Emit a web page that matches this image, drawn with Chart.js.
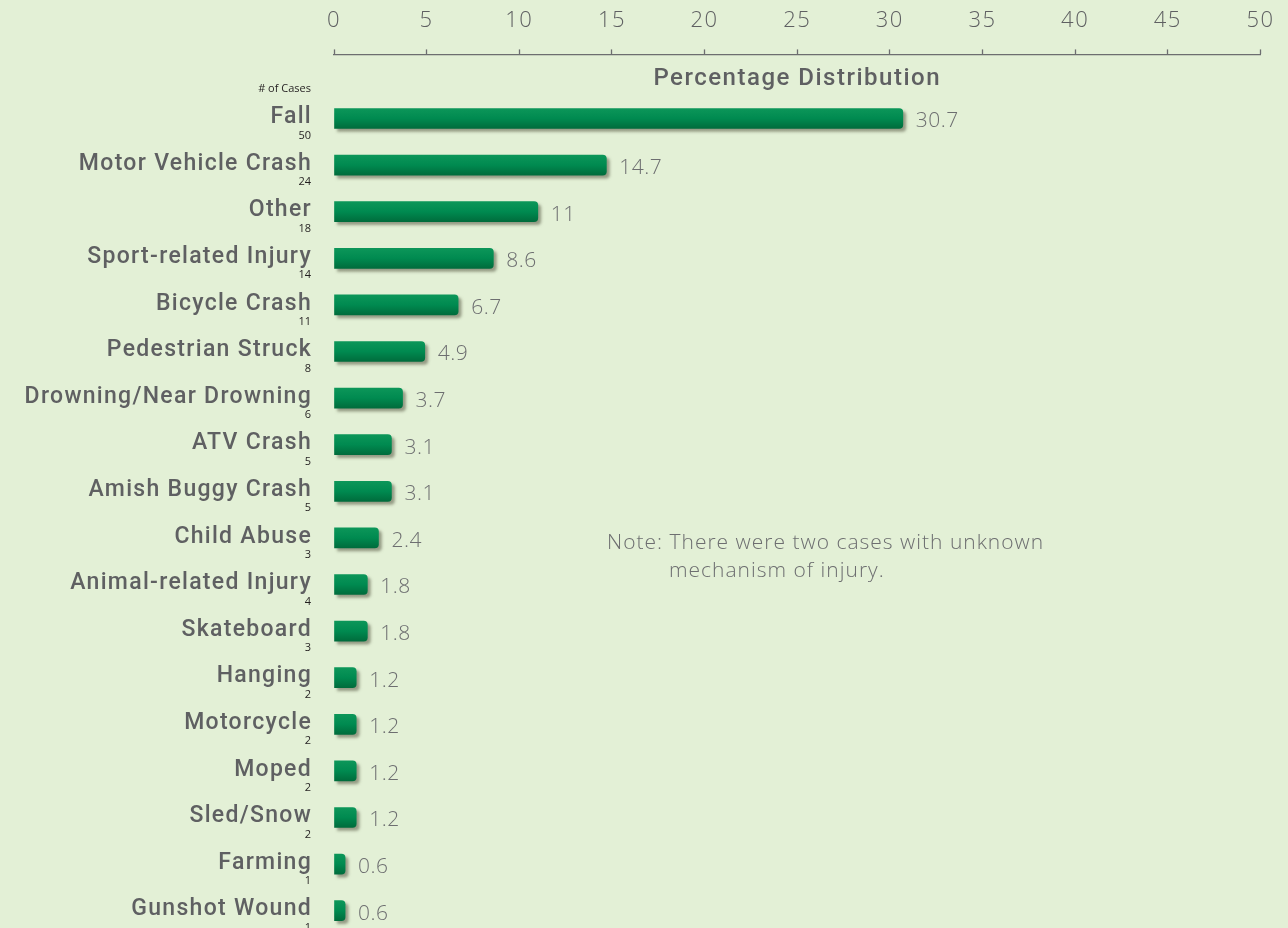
<!DOCTYPE html>
<html>
<head>
<meta charset="utf-8">
<script src="https://cdn.jsdelivr.net/npm/chart.js@4/dist/chart.umd.min.js"></script>
<style>
  html, body { margin: 0; padding: 0; background: #e3f0d6; overflow: hidden; }
  #wrap { position: relative; top: -14px; width: 1288px; height: 948px; }
</style>
</head>
<body>
<div id="wrap"><canvas id="myChart"></canvas></div>
<script>
// categorias, porcentajes y numero de casos
const categories = ['Fall', 'Motor Vehicle Crash', 'Other', 'Sport-related Injury', 'Bicycle Crash',
    'Pedestrian Struck', 'Drowning/Near Drowning', 'ATV Crash', 'Amish Buggy Crash', 'Child Abuse',
    'Animal-related Injury', 'Skateboard', 'Hanging', 'Motorcycle', 'Moped', 'Sled/Snow', 'Farming', 'Gunshot Wound'];
const percents = [30.7, 14.7, 11, 8.6, 6.7, 4.9, 3.7, 3.1, 3.1, 2.4, 1.8, 1.8, 1.2, 1.2, 1.2, 1.2, 0.6, 0.6];
const cases = [50, 24, 18, 14, 11, 8, 6, 5, 5, 3, 4, 3, 2, 2, 2, 2, 1, 1];
const xTicks = [0, 5, 10, 15, 20, 25, 30, 35, 40, 45, 50];
const noteLines = ['Note: There were two cases with unknown', 'mechanism of injury.'];

const grey = '#5f6062';
const lightFont = '"Open Sans", "Lato", sans-serif';
const mediumFont = 'Roboto, "Open Sans", sans-serif';

// espaciado de letras para eje y titulo
const spacingPlugin = {
    id: 'spacing',
    beforeDraw(chart) { chart.ctx.letterSpacing = '1.5px'; },
    beforeDatasetsDraw(chart) { chart.ctx.letterSpacing = '0px'; }
};

// sombra de las barras
const shadowPlugin = {
    id: 'shadow',
    beforeDatasetsDraw(chart) {
        const c = chart.ctx;
        c.save();
        c.shadowColor = 'rgba(70,70,50,0.5)';
        c.shadowOffsetX = 3;
        c.shadowOffsetY = 3;
        c.shadowBlur = 3;
    },
    afterDatasetsDraw(chart) {
        chart.ctx.restore();
    }
};

// etiquetas de la izquierda, valores y nota
const textPlugin = {
    id: 'texts',
    afterDraw(chart) {
        const c = chart.ctx;
        const y = chart.scales.y;
        const x = chart.scales.x;
        const right = chart.chartArea.left - 23;
        const top = chart.chartArea.top;
        c.save();
        c.textAlign = 'right';
        c.textBaseline = 'middle';
        c.fillStyle = '#231f20';
        c.font = '11px ' + lightFont;
        c.fillText('# of Cases', right, top - 6);
        categories.forEach((cat, i) => {
            const yc = y.getPixelForValue(i);
            c.fillStyle = grey;
            c.font = '500 23px ' + mediumFont;
            c.letterSpacing = '1.3px';
            c.fillText(cat, right + 1, yc - 1);
            c.letterSpacing = '0px';
            c.fillStyle = '#231f20';
            c.font = '11px ' + lightFont;
            c.fillText(String(cases[i]), right, yc + 17);
        });
        c.textAlign = 'left';
        c.fillStyle = '#6d6e70';
        c.font = '300 21px ' + lightFont;
        c.letterSpacing = '0.5px';
        percents.forEach((v, i) => {
            c.fillText(String(v), x.getPixelForValue(v) + 13, y.getPixelForValue(i) + 3);
        });
        c.letterSpacing = '1px';
        c.fillText(noteLines[0], 607, top + 448);
        c.fillText(noteLines[1], 669, top + 476);
        c.restore();
    }
};

const loadChart = () => {
    const ctx = document.getElementById('myChart').getContext('2d');
    new Chart(ctx, {
        type: 'bar',
        data: {
            labels: categories,
            datasets: [{
                data: percents,
                barThickness: 20,
                borderRadius: 4,
                borderSkipped: 'start',
                backgroundColor: (context) => {
                    const chart = context.chart;
                    if (!chart.chartArea || context.dataIndex === undefined) return '#00804a';
                    const yc = chart.scales.y.getPixelForValue(context.dataIndex);
                    const g = chart.ctx.createLinearGradient(0, yc - 10, 0, yc + 10);
                    g.addColorStop(0, '#0c9659');
                    g.addColorStop(0.5, '#008a50');
                    g.addColorStop(1, '#006c3c');
                    return g;
                }
            }]
        },
        options: {
            indexAxis: 'y',
            responsive: true,
            maintainAspectRatio: false,
            animation: false,
            layout: { padding: { top: 7, right: 25, left: 0, bottom: 0 } },
            plugins: {
                legend: { display: false },
                tooltip: { enabled: false },
                title: {
                    display: true,
                    text: 'Percentage Distribution',
                    position: 'top',
                    fullSize: false,
                    weight: -1,
                    color: grey,
                    font: { family: mediumFont, size: 24, weight: '500', lineHeight: 1.2 },
                    padding: { top: 10, bottom: 2 }
                }
            },
            scales: {
                x: {
                    position: 'top',
                    min: 0,
                    max: 50,
                    afterBuildTicks: (scale) => { scale.ticks = xTicks.map(v => ({ value: v })); },
                    ticks: {
                        color: grey,
                        padding: 15,
                        maxRotation: 0,
                        font: { family: lightFont, size: 22, weight: '300', lineHeight: 1.2 }
                    },
                    grid: { drawOnChartArea: false, tickLength: 5, color: '#6d6e70', tickWidth: 1.3 },
                    border: { color: '#6d6e70', width: 1.3 }
                },
                y: {
                    offset: true,
                    ticks: { display: false },
                    grid: { display: false },
                    border: { display: false },
                    afterFit: (scale) => { scale.width = 334; }
                }
            }
        },
        plugins: [spacingPlugin, shadowPlugin, textPlugin]
    });
};

loadChart();
</script>
</body>
</html>
